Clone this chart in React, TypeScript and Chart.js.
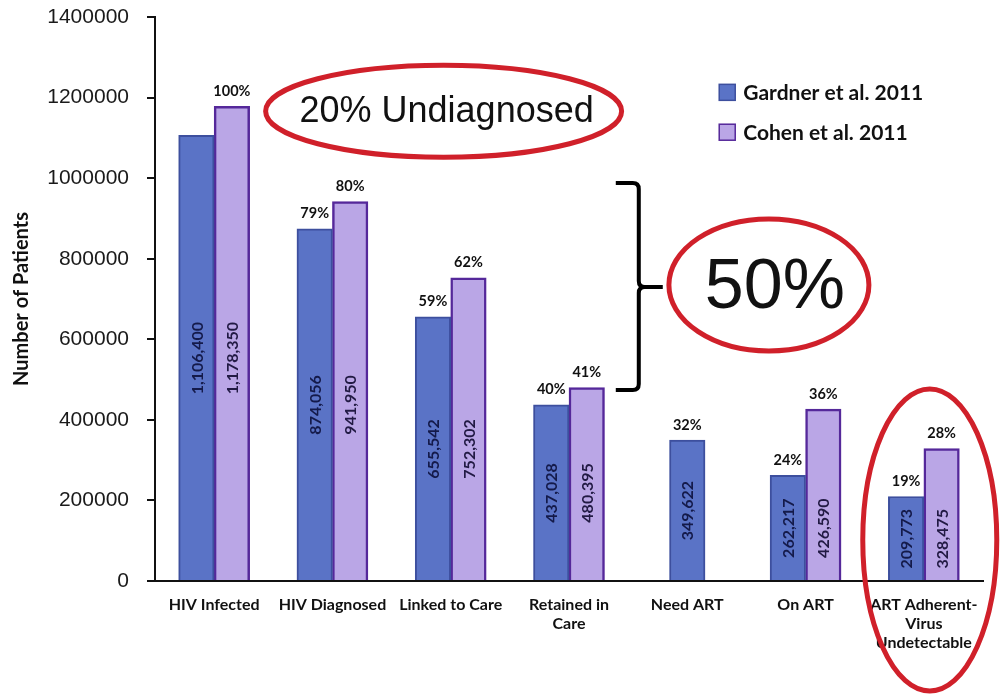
import React, { useEffect, useRef } from "react";
import { Chart, registerables } from "chart.js";

Chart.register(...registerables);

// HIV care continuum, two 2011 estimates
const categories: string[][] = [
  ["HIV Infected"],
  ["HIV Diagnosed"],
  ["Linked to Care"],
  ["Retained in", "Care"],
  ["Need ART"],
  ["On ART"],
  ["ART Adherent-", "Virus", "Undetectable"],
];
const gardner: (number | null)[] = [1106400, 874056, 655542, 437028, 349622, 262217, 209773];
const cohen: (number | null)[] = [1178350, 941950, 752302, 480395, null, 426590, 328475];
const gardnerPct: (string | null)[] = [null, "79%", "59%", "40%", "32%", "24%", "19%"];
const cohenPct: (string | null)[] = ["100%", "80%", "62%", "41%", null, "36%", "28%"];
const seriesNames = ["Gardner et al. 2011", "Cohen et al. 2011"];
const yMax = 1400000;
const yStep = 200000;

const BLUE = "#5a73c6";
const BLUE_EDGE = "#3d4f9e";
const PURPLE = "#baa6e6";
const PURPLE_EDGE = "#55289a";
const RED = "#d0202a";

const fmt = (v: number) => v.toLocaleString("en-US");

const overlay = {
  id: "overlay",
  afterDatasetsDraw(chart: any) {
    const ctx: CanvasRenderingContext2D = chart.ctx;
    const x = chart.scales.x;
    const y = chart.scales.y;
    const m0 = chart.getDatasetMeta(0).data;
    const m1 = chart.getDatasetMeta(1).data;
    const pcts = [gardnerPct, cohenPct];

    ctx.save();
    // percentage labels above bars
    ctx.font = "bold 14.5px Lato";
    ctx.fillStyle = "#111";
    ctx.textAlign = "center";
    ctx.textBaseline = "bottom";
    [m0, m1].forEach((meta, d) => {
      meta.forEach((bar: any, i: number) => {
        const t = pcts[d][i];
        const v = d === 0 ? gardner[i] : cohen[i];
        if (!t || v == null) return;
        ctx.fillText(t, bar.x, bar.y - 8);
      });
    });

    // rotated value labels, centred on the shorter bar of each pair
    ctx.font = "bold 16px Lato";
    ctx.textBaseline = "middle";
    const base = y.getPixelForValue(0);
    categories.forEach((_, i) => {
      const vals = [gardner[i], cohen[i]];
      const bars = [m0[i], m1[i]];
      const top = Math.max(...vals.map((v, d) => (v != null ? bars[d].y : -Infinity)));
      const cy = (base + top) / 2;
      vals.forEach((v, d) => {
        if (v == null) return;
        ctx.save();
        ctx.translate(bars[d].x + 1, cy);
        ctx.rotate(-Math.PI / 2);
        ctx.fillStyle = d === 0 ? "#141a4a" : "#221a44";
        ctx.fillText(fmt(v), 0, 0);
        ctx.restore();
      });
    });

    // legend
    ctx.font = "bold 21px Lato";
    ctx.textAlign = "left";
    ctx.textBaseline = "middle";
    const lx = x.getPixelForValue(4.27);
    [
      { c: BLUE, e: BLUE_EDGE, v: 1213000 },
      { c: PURPLE, e: PURPLE_EDGE, v: 1114000 },
    ].forEach((s, d) => {
      const ly = y.getPixelForValue(s.v);
      ctx.fillStyle = s.c;
      ctx.strokeStyle = s.e;
      ctx.lineWidth = 1.5;
      ctx.fillRect(lx, ly - 8, 16, 16);
      ctx.strokeRect(lx, ly - 8, 16, 16);
      ctx.fillStyle = "#111";
      ctx.fillText(seriesNames[d], lx + 24, ly + 1);
    });

    // callout ellipses
    const ellipse = (cx: number, cy: number, rx: number, ry: number) => {
      ctx.beginPath();
      ctx.ellipse(cx, cy, rx, ry, 0, 0, Math.PI * 2);
      ctx.strokeStyle = RED;
      ctx.lineWidth = 5;
      ctx.stroke();
    };

    const e1x = x.getPixelForValue(1.94);
    const e1y = y.getPixelForValue(1166000);
    ellipse(e1x, e1y, 178, 46);
    ctx.fillStyle = "#111";
    ctx.textAlign = "center";
    ctx.textBaseline = "middle";
    ctx.font = "36px 'Liberation Sans'";
    ctx.fillText("20% Undiagnosed", e1x + 3, e1y + 1);

    const e2x = x.getPixelForValue(4.69);
    const e2y = y.getPixelForValue(735000);
    ellipse(e2x, e2y, 100, 66);
    ctx.font = "70px 'Liberation Sans'";
    ctx.fillText("50%", e2x + 6, e2y + 4);

    const e3x = x.getPixelForValue(6.05);
    const e3y = y.getPixelForValue(102000);
    ellipse(e3x, e3y, 67, 151);

    // bracket spanning Diagnosed to Retained
    const bx = x.getPixelForValue(3.59);
    const bt = y.getPixelForValue(988000);
    const bb = y.getPixelForValue(474000);
    const bm = y.getPixelForValue(730000);
    ctx.beginPath();
    ctx.strokeStyle = "#000";
    ctx.lineWidth = 4;
    ctx.moveTo(bx - 23, bt);
    ctx.lineTo(bx - 6, bt);
    ctx.quadraticCurveTo(bx, bt, bx, bt + 6);
    ctx.lineTo(bx, bm - 6);
    ctx.quadraticCurveTo(bx, bm, bx + 6, bm);
    ctx.lineTo(bx + 24, bm);
    ctx.moveTo(bx + 6, bm);
    ctx.quadraticCurveTo(bx, bm, bx, bm + 6);
    ctx.lineTo(bx, bb - 6);
    ctx.quadraticCurveTo(bx, bb, bx - 6, bb);
    ctx.lineTo(bx - 23, bb);
    ctx.stroke();

    ctx.restore();
  },
};

export default function App() {
  const ref = useRef<HTMLCanvasElement | null>(null);

  useEffect(() => {
    if (!ref.current) return;
    const chart = new Chart(ref.current, {
      type: "bar",
      data: {
        labels: categories,
        datasets: [
          {
            label: seriesNames[0],
            data: gardner,
            backgroundColor: BLUE,
            borderColor: BLUE_EDGE,
            borderWidth: 2,
          },
          {
            label: seriesNames[1],
            data: cohen,
            backgroundColor: PURPLE,
            borderColor: PURPLE_EDGE,
            borderWidth: 2.5,
          },
        ],
      },
      options: {
        animation: false,
        responsive: false,
        devicePixelRatio: 1,
        layout: { padding: { top: 17, right: 17, left: 0, bottom: 0 } },
        datasets: { bar: { barThickness: 35.5, skipNull: true } as any },
        plugins: { legend: { display: false }, tooltip: { enabled: false } },
        scales: {
          x: {
            grid: { display: false },
            border: { display: true, color: "#111", width: 2 },
            ticks: {
              color: "#111",
              font: { family: "Lato", size: 16, weight: "bold", lineHeight: 1.2 },
              padding: 6,
              maxRotation: 0,
              autoSkip: false,
            },
            afterFit: (s: any) => {
              s.height = 114;
            },
          },
          y: {
            min: 0,
            max: yMax,
            grid: { drawOnChartArea: false, drawTicks: true, tickLength: 8, color: "#111", lineWidth: 2 },
            border: { display: true, color: "#111", width: 2 },
            ticks: {
              stepSize: yStep,
              color: "#1a1a1a",
              font: { family: "Liberation Sans", size: 21 },
              padding: 18,
              callback: (v: any) => String(v),
            },
            title: {
              display: true,
              text: "Number of Patients",
              color: "#111",
              font: { family: "Lato", size: 20, weight: "bold" },
              padding: { top: 10, bottom: 0 },
            },
            afterFit: (s: any) => {
              s.width = 155;
              s.paddingTop = 0;
              s.paddingBottom = 0;
            },
          },
        },
      },
      plugins: [overlay],
    });
    return () => chart.destroy();
  }, []);

  return (
    <div style={{ position: "absolute", left: 0, top: 0, width: 1000, height: 695, background: "#fff" }}>
      <canvas ref={ref} width={1000} height={695} />
    </div>
  );
}
